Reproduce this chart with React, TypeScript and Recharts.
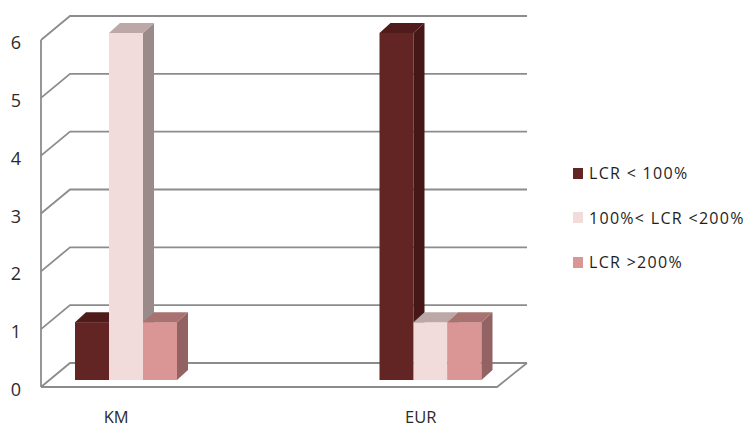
import { BarChart, Bar, XAxis, YAxis, CartesianGrid, Legend } from 'recharts';

const categories = ['KM', 'EUR'];
const lcrBelow100 = [1, 6];
const lcr100to200 = [6, 1];
const lcrAbove200 = [1, 1];
const seriesNames = ['LCR < 100%', '100%< LCR <200%', 'LCR >200%'];
const yTicks = [0, 1, 2, 3, 4, 5, 6];

const data = categories.map((cat, i) => ({
  cat,
  below: lcrBelow100[i],
  mid: lcr100to200[i],
  above: lcrAbove200[i],
}));

const W = 748;
const H = 428;
const TOP = 33;
const AXIS_W = 41;
const RIGHT = 221;
const X_AXIS_H = 48;
const PLOT_BOTTOM = H - X_AXIS_H;

// 3D offsets: front edge / back wall relative to bar plane
const FRONT_DY = 7;
const BACK_DX = 29;
const BACK_DY = 17;
const DEPTH_X = 11;
const DEPTH_Y = 10;

const GRID = '#8c8c8c';
const FONT = '"Open Sans", sans-serif';

function boxShape(face: string, side: string, top: string) {
  return (props: any) => {
    const { x, y, width, height } = props;
    if (!height || height <= 0) return <g />;
    const r = x + width;
    const b = y + height;
    return (
      <g>
        <rect x={x} y={y} width={width} height={height} fill={face} />
        <polygon
          points={`${r},${y} ${r + DEPTH_X},${y - DEPTH_Y} ${r + DEPTH_X},${b - DEPTH_Y} ${r},${b}`}
          fill={side}
        />
        <polygon
          points={`${x},${y} ${x + DEPTH_X},${y - DEPTH_Y} ${r + DEPTH_X},${y - DEPTH_Y} ${r},${y}`}
          fill={top}
        />
      </g>
    );
  };
}

const gridLine = (props: any) => {
  const { x1, x2, y1 } = props;
  const isFloor = Math.abs(y1 - PLOT_BOTTOM) < 1;
  return (
    <g key={props.key ?? `g-${y1}`}>
      <polyline
        points={`${x1},${y1 + FRONT_DY} ${x1 + BACK_DX},${y1 - BACK_DY} ${x2},${y1 - BACK_DY}`}
        fill="none"
        stroke={GRID}
        strokeWidth={1.8}
      />
      {isFloor && (
        <>
          <polyline
            points={`${x1},${y1 + FRONT_DY} ${x2 - BACK_DX - 1},${y1 + FRONT_DY} ${x2},${y1 - BACK_DY}`}
            fill="none"
            stroke={GRID}
            strokeWidth={1.8}
          />
          <line x1={x1} y1={TOP + FRONT_DY} x2={x1} y2={y1 + FRONT_DY} stroke={GRID} strokeWidth={1.8} />
        </>
      )}
    </g>
  );
};

const YTick = (props: any) => {
  const { y, payload } = props;
  return (
    <text x={16} y={y + 16} textAnchor="middle" fontSize={18} fontFamily={FONT} fill="#2b2b2b">
      {payload.value}
    </text>
  );
};

const XTick = (props: any) => {
  const { x, payload } = props;
  return (
    <text x={x - 10} y={PLOT_BOTTOM + 43} textAnchor="middle" fontSize={16.5} fontFamily={FONT} fill="#2b2b2b">
      {payload.value}
    </text>
  );
};

const renderLegend = (props: any) => {
  const items = [...(props.payload || [])].sort(
    (a: any, b: any) => seriesNames.indexOf(a.value) - seriesNames.indexOf(b.value)
  );
  return (
    <div style={{ fontFamily: FONT }}>
      {items.map((entry: any) => (
        <div key={entry.value} style={{ display: 'flex', alignItems: 'center', height: 44.5 }}>
          <span style={{ display: 'inline-block', width: 10, height: 11, background: entry.color, marginRight: 6 }} />
          <span style={{ fontSize: 16, letterSpacing: 1.3, color: '#1e1e1e', whiteSpace: 'nowrap' }}>{entry.value}</span>
        </div>
      ))}
    </div>
  );
};

export default function App() {
  return (
    <div style={{ position: 'absolute', left: 0, top: 0, width: W, height: H, background: '#fff' }}>
      <BarChart
        width={W}
        height={H}
        data={data}
        margin={{ top: TOP, right: RIGHT, bottom: 0, left: 0 }}
        barGap={0}
        barSize={34}
      >
        <CartesianGrid vertical={false} horizontal={gridLine} />
        <XAxis
          dataKey="cat"
          height={X_AXIS_H}
          axisLine={false}
          tickLine={false}
          padding={{ left: -67, right: -56 }}
          tick={<XTick />}
        />
        <YAxis
          domain={[0, 6]}
          ticks={yTicks}
          width={AXIS_W}
          axisLine={false}
          tickLine={false}
          tick={<YTick />}
        />
        <Legend
          layout="horizontal"
          verticalAlign="middle"
          content={renderLegend}
          wrapperStyle={{ left: 573, top: 151, width: 175 }}
        />
        <Bar
          dataKey="below"
          name={seriesNames[0]}
          fill="#632523"
          shape={boxShape('#632523', '#451817', '#4f1c1b')}
          isAnimationActive={false}
        />
        <Bar
          dataKey="mid"
          name={seriesNames[1]}
          fill="#f2dcdb"
          shape={boxShape('#f2dcdb', '#9a8a89', '#bca8a7')}
          isAnimationActive={false}
        />
        <Bar
          dataKey="above"
          name={seriesNames[2]}
          fill="#d99694"
          shape={boxShape('#d99694', '#926362', '#a87271')}
          isAnimationActive={false}
        />
      </BarChart>
    </div>
  );
}
